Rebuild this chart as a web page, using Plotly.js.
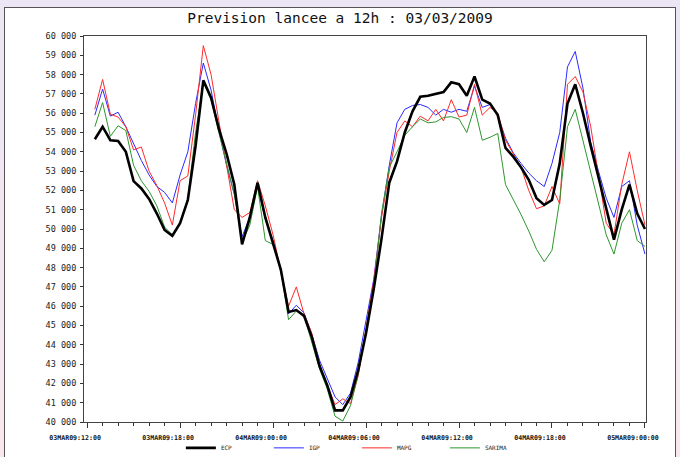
<!DOCTYPE html>
<html>
<head>
<meta charset="utf-8">
<script src="https://cdn.plot.ly/plotly-3.0.1.min.js"></script>
<style>
  html, body { margin: 0; padding: 0; width: 680px; height: 457px; overflow: hidden;
    background: linear-gradient(180deg, #ebe5f5 0%, #f3e6f1 50%, #f8e7ee 100%); }
  #box { position: absolute; left: 4px; top: 7px; width: 670px; height: 460px;
    background: #ffffff; border: 1px solid #555; }
  #chart { position: absolute; left: 0; top: 0; width: 680px; height: 457px; }
</style>
</head>
<body>
<div id="box"></div>
<div id="chart"></div>
<script>
// Half-hourly forecasts, 03MAR09 12:30 -> 05MAR09 00:00
const startTime = '2009-03-03T12:30:00';
const stepMinutes = 30;

const ECP = [54650,55300,54600,54560,54000,52480,52100,51560,50800,49950,49650,50300,51500,54300,57700,56800,
  55200,53900,52300,49200,50600,52400,50600,49300,47900,45700,45800,45500,44400,42900,41900,40600,
  40600,41300,42700,44600,46900,49500,52400,53500,55000,56100,56850,56900,57000,57100,57600,57500,
  56900,57900,56700,56500,55900,54200,53750,53200,52550,51600,51250,51500,53400,56500,57500,56000,
  54300,52700,51050,49450,51000,52300,50800,50000];

const IGP = [55900,57250,55850,56050,55300,54400,53550,52800,52200,51900,51350,52800,54000,56500,58600,57200,
  55100,53300,51800,49600,50600,52300,50500,49400,47800,45600,46050,45650,44550,43200,42200,41300,
  40900,41500,43100,45200,47400,50700,53300,55500,56200,56400,56450,56300,55900,56200,56050,56200,
  56100,57400,56300,56450,55900,54700,53950,53400,52900,52500,52200,53400,55000,58400,59200,57300,
  54500,53000,51600,50600,52200,52500,50200,48700];

const MAPG = [56200,57750,55950,55800,55300,54100,54250,53000,52250,51350,50200,52500,52750,55900,59500,58000,
  55600,53300,51000,50600,50850,52500,51200,49700,47800,46000,47000,45600,44600,43000,41900,40900,
  41200,40950,42400,44800,47300,50600,53000,55000,55600,55300,55850,55600,56200,55600,56700,55800,
  55900,57500,55900,56300,56000,54600,53900,53200,52000,51050,51200,52200,51300,57500,57900,57100,
  55300,52700,50300,49700,52300,54000,52000,50200];

const SARIMA = [55300,56550,54800,55350,55100,53300,52500,51950,51200,50100,49700,50300,51600,55000,57600,56700,
  55000,53400,51800,49300,50200,52200,49400,49200,47900,45300,45750,45500,44100,42750,41700,40300,
  40050,40850,42500,44700,47000,50800,53200,54000,54850,55300,55700,55500,55550,55780,55820,55700,
  55000,56300,54600,54750,54950,52300,51550,50750,49900,48950,48300,48900,51500,55300,56200,54600,
  53000,51300,49700,48700,50300,51000,49400,49100];

const seriesNames = ['ECP', 'IGP', 'MAPG', 'SARIMA'];
const seriesColors = ['#000000', '#2a2aff', '#ff2a2a', '#2e962e'];
const seriesWidths = [2.6, 1, 1, 1];

const xTickVals = ['2009-03-03 12:00', '2009-03-03 18:00', '2009-03-04 00:00', '2009-03-04 06:00',
  '2009-03-04 12:00', '2009-03-04 18:00', '2009-03-05 00:00'];
const xTickText = ['03MAR09:12:00', '03MAR09:18:00', '04MAR09:00:00', '04MAR09:06:00',
  '04MAR09:12:00', '04MAR09:18:00', '05MAR09:00:00'];
const yTickVals = [40000,41000,42000,43000,44000,45000,46000,47000,48000,49000,50000,
  51000,52000,53000,54000,55000,56000,57000,58000,59000,60000];
const yTickText = yTickVals.map(v => String(Math.floor(v / 1000)) + ' ' + String(v % 1000).padStart(3, '0'));

// time axis
const times = [];
{
  const t0 = new Date(startTime + 'Z').getTime();
  for (let i = 0; i < ECP.length; i++) {
    const d = new Date(t0 + i * stepMinutes * 60000);
    times.push(d.toISOString().slice(0, 19).replace('T', ' '));
  }
}

const data = [ECP, IGP, MAPG, SARIMA].map((vals, i) => ({
  type: 'scatter', mode: 'lines', x: times, y: vals, name: seriesNames[i],
  line: { color: seriesColors[i], width: seriesWidths[i] }
}));
// draw ECP on top
const ordered = [data[1], data[2], data[3], data[0]];
const legendRank = { 'ECP': 1, 'IGP': 2, 'MAPG': 3, 'SARIMA': 4 };
ordered.forEach(t => t.legendrank = legendRank[t.name]);

const layout = {
  width: 680, height: 457,
  paper_bgcolor: 'rgba(0,0,0,0)', plot_bgcolor: '#ffffff',
  margin: { l: 84, r: 34, t: 36, b: 35 },
  title: { text: 'Prevision lancee a 12h : 03/03/2009', x: 0.5, xanchor: 'center', y: 0.96, yanchor: 'middle',
    font: { family: 'DejaVu Sans Mono', size: 14.5, color: '#111' } },
  showlegend: true,
  legend: { orientation: 'h', xref: 'container', yref: 'container', x: 0.266, xanchor: 'left',
    y: 0.02, yanchor: 'middle',
    font: { family: 'DejaVu Sans Mono', size: 6, color: '#222' }, bgcolor: 'rgba(0,0,0,0)',
    entrywidth: 43, entrywidthmode: 'pixels', traceorder: 'normal' },
  xaxis: {
    type: 'date', range: ['2009-03-03 11:48', '2009-03-05 00:04'],
    tickmode: 'array', tickvals: xTickVals, ticktext: xTickText,
    ticks: 'outside', ticklen: 5, tickcolor: '#333', tickwidth: 1,
    minor: { dtick: 3600000, ticks: 'outside', ticklen: 3, tickcolor: '#333', tickwidth: 1, showgrid: false },
    showgrid: false, zeroline: false, showline: true, mirror: true, linecolor: '#444', linewidth: 1,
    tickfont: { family: 'DejaVu Sans Mono', size: 6.6, color: '#111', weight: 'bold' }, tickangle: 0,
    ticklabelstandoff: 4, ticklabelshift: -12
  },
  yaxis: {
    range: [40000, 60000], tickmode: 'array', tickvals: yTickVals, ticktext: yTickText,
    ticks: 'outside', ticklen: 3, tickcolor: '#333', tickwidth: 1,
    showgrid: false, zeroline: false, showline: true, mirror: true, linecolor: '#444', linewidth: 1,
    tickfont: { family: 'DejaVu Sans Mono', size: 8.5, color: '#222' }, ticklabelstandoff: 2
  }
};

Plotly.newPlot('chart', ordered, layout, { staticPlot: true, displayModeBar: false });
</script>
</body>
</html>
